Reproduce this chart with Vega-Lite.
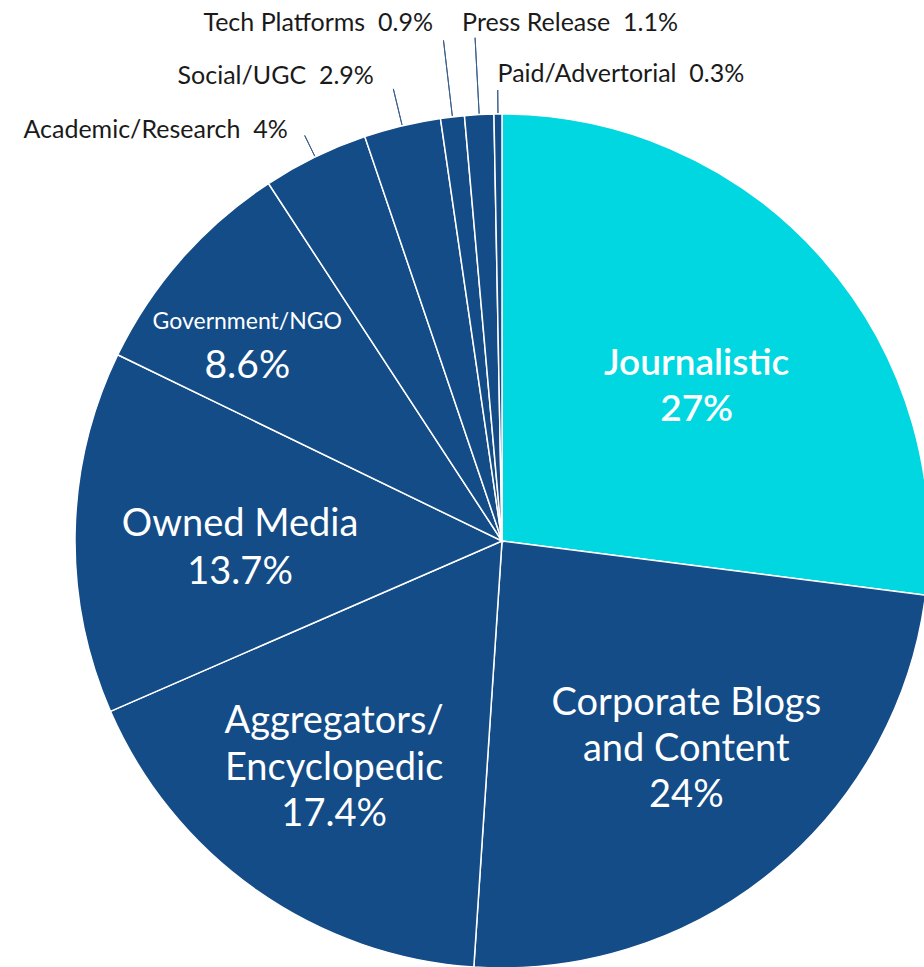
{
  "$schema": "https://vega.github.io/schema/vega-lite/v6.json",
  "width": 1004,
  "height": 1082,
  "autosize": "none",
  "padding": 0,
  "background": "white",
  "config": {"view": {"stroke": null}, "font": "Lato"},
  "data": {
    "values": [
      {"rank": 1, "category": "Journalistic", "value": 27, "pct": "27%", "label": "Journalistic\n27%"},
      {"rank": 2, "category": "Corporate Blogs and Content", "value": 24, "pct": "24%", "label": "Corporate Blogs\nand Content\n24%"},
      {"rank": 3, "category": "Aggregators/Encyclopedic", "value": 17.4, "pct": "17.4%", "label": "Aggregators/\nEncyclopedic\n17.4%"},
      {"rank": 4, "category": "Owned Media", "value": 13.7, "pct": "13.7%", "label": "Owned Media\n13.7%"},
      {"rank": 5, "category": "Government/NGO", "value": 8.6, "pct": "8.6%", "label": "Government/NGO"},
      {"rank": 6, "category": "Academic/Research", "value": 4, "pct": "4%", "label": "Academic/Research\u00a0\u00a04%"},
      {"rank": 7, "category": "Social/UGC", "value": 2.9, "pct": "2.9%", "label": "Social/UGC\u00a0\u00a02.9%"},
      {"rank": 8, "category": "Tech Platforms", "value": 0.9, "pct": "0.9%", "label": "Tech Platforms\u00a0\u00a00.9%"},
      {"rank": 9, "category": "Press Release", "value": 1.1, "pct": "1.1%", "label": "Press Release\u00a0\u00a01.1%"},
      {"rank": 10, "category": "Paid/Advertorial", "value": 0.3, "pct": "0.3%", "label": "Paid/Advertorial\u00a0\u00a00.3%"}
    ]
  },
  "encoding": {
    "theta": {"field": "value", "type": "quantitative", "stack": true, "scale": {"domain": [0, 99.9]}},
    "order": {"field": "rank", "type": "quantitative"}
  },
  "layer": [
    {
      "mark": {"type": "arc", "radius": 427, "stroke": "white", "strokeWidth": 1.5},
      "encoding": {
        "color": {
          "condition": {"test": "datum.category === 'Journalistic'", "value": "#00D7E0"},
          "value": "#134C87"
        }
      }
    },
    {
      "mark": {"type": "arc", "radius": 451, "radius2": 428, "padAngle": 0.8, "filled": false, "stroke": "#3A5E8C", "strokeWidth": 1},
      "encoding": {
        "strokeOpacity": {
          "condition": {"test": "datum.category === 'Academic/Research' || datum.category === 'Paid/Advertorial'", "value": 1},
          "value": 0
        }
      }
    },
    {
      "mark": {"type": "arc", "radius": 465, "radius2": 428, "padAngle": 0.8, "filled": false, "stroke": "#3A5E8C", "strokeWidth": 1},
      "encoding": {
        "strokeOpacity": {
          "condition": {"test": "datum.category === 'Social/UGC'", "value": 1},
          "value": 0
        }
      }
    },
    {
      "mark": {"type": "arc", "radius": 504, "radius2": 428, "padAngle": 0.8, "filled": false, "stroke": "#3A5E8C", "strokeWidth": 1},
      "encoding": {
        "strokeOpacity": {
          "condition": {"test": "datum.category === 'Tech Platforms' || datum.category === 'Press Release'", "value": 1},
          "value": 0
        }
      }
    },
    {
      "mark": {"type": "text", "radius": 250, "dx": 7, "dy": -12, "font": "Lato", "fontSize": 37, "fontWeight": 600, "lineBreak": "\n", "lineHeight": 46, "align": "center", "baseline": "middle", "color": "white"},
      "encoding": {
        "text": {"condition": {"test": "datum.category === 'Journalistic'", "field": "label"}, "value": ""}
      }
    },
    {
      "mark": {"type": "text", "radius": 279, "dx": 7, "dy": -52, "font": "Lato", "fontSize": 38, "lineBreak": "\n", "lineHeight": 46, "align": "center", "baseline": "middle", "color": "white"},
      "encoding": {
        "text": {"condition": {"test": "datum.category === 'Corporate Blogs and Content'", "field": "label"}, "value": ""}
      }
    },
    {
      "mark": {"type": "text", "radius": 283, "dx": -5, "dy": -50, "font": "Lato", "fontSize": 38, "lineBreak": "\n", "lineHeight": 46.5, "align": "center", "baseline": "middle", "color": "white"},
      "encoding": {
        "text": {"condition": {"test": "datum.category === 'Aggregators/Encyclopedic'", "field": "label"}, "value": ""}
      }
    },
    {
      "mark": {"type": "text", "radius": 262, "dx": 0, "dy": -11, "font": "Lato", "fontSize": 38, "lineBreak": "\n", "lineHeight": 48, "align": "center", "baseline": "middle", "color": "white"},
      "encoding": {
        "text": {"condition": {"test": "datum.category === 'Owned Media'", "field": "label"}, "value": ""}
      }
    },
    {
      "mark": {"type": "text", "radius": 322, "dx": -13, "dy": -6, "font": "Lato", "fontSize": 23, "align": "center", "baseline": "middle", "color": "white"},
      "encoding": {
        "text": {"condition": {"test": "datum.category === 'Government/NGO'", "field": "label"}, "value": ""}
      }
    },
    {
      "mark": {"type": "text", "radius": 322, "dx": -13, "dy": 38, "font": "Lato", "fontSize": 39, "align": "center", "baseline": "middle", "color": "white"},
      "encoding": {
        "text": {"condition": {"test": "datum.category === 'Government/NGO'", "field": "pct"}, "value": ""}
      }
    },
    {
      "mark": {"type": "text", "radius": 460, "dx": -13, "dy": 3, "font": "Lato", "fontSize": 25, "align": "right", "baseline": "middle", "color": "#1A1A1A"},
      "encoding": {
        "text": {"condition": {"test": "datum.category === 'Academic/Research'", "field": "label"}, "value": ""}
      }
    },
    {
      "mark": {"type": "text", "radius": 484, "dx": -15, "dy": 6, "font": "Lato", "fontSize": 25, "align": "right", "baseline": "middle", "color": "#1A1A1A"},
      "encoding": {
        "text": {"condition": {"test": "datum.category === 'Social/UGC'", "field": "label"}, "value": ""}
      }
    },
    {
      "mark": {"type": "text", "radius": 526, "dx": -8, "dy": 4, "font": "Lato", "fontSize": 25, "align": "right", "baseline": "middle", "color": "#1A1A1A"},
      "encoding": {
        "text": {"condition": {"test": "datum.category === 'Tech Platforms'", "field": "label"}, "value": ""}
      }
    },
    {
      "mark": {"type": "text", "radius": 522, "dx": -12, "dy": 3, "font": "Lato", "fontSize": 25, "align": "left", "baseline": "middle", "color": "#1A1A1A"},
      "encoding": {
        "text": {"condition": {"test": "datum.category === 'Press Release'", "field": "label"}, "value": ""}
      }
    },
    {
      "mark": {"type": "text", "radius": 469, "dx": 0, "dy": 2, "font": "Lato", "fontSize": 25, "align": "left", "baseline": "middle", "color": "#1A1A1A"},
      "encoding": {
        "text": {"condition": {"test": "datum.category === 'Paid/Advertorial'", "field": "label"}, "value": ""}
      }
    }
  ]
}
